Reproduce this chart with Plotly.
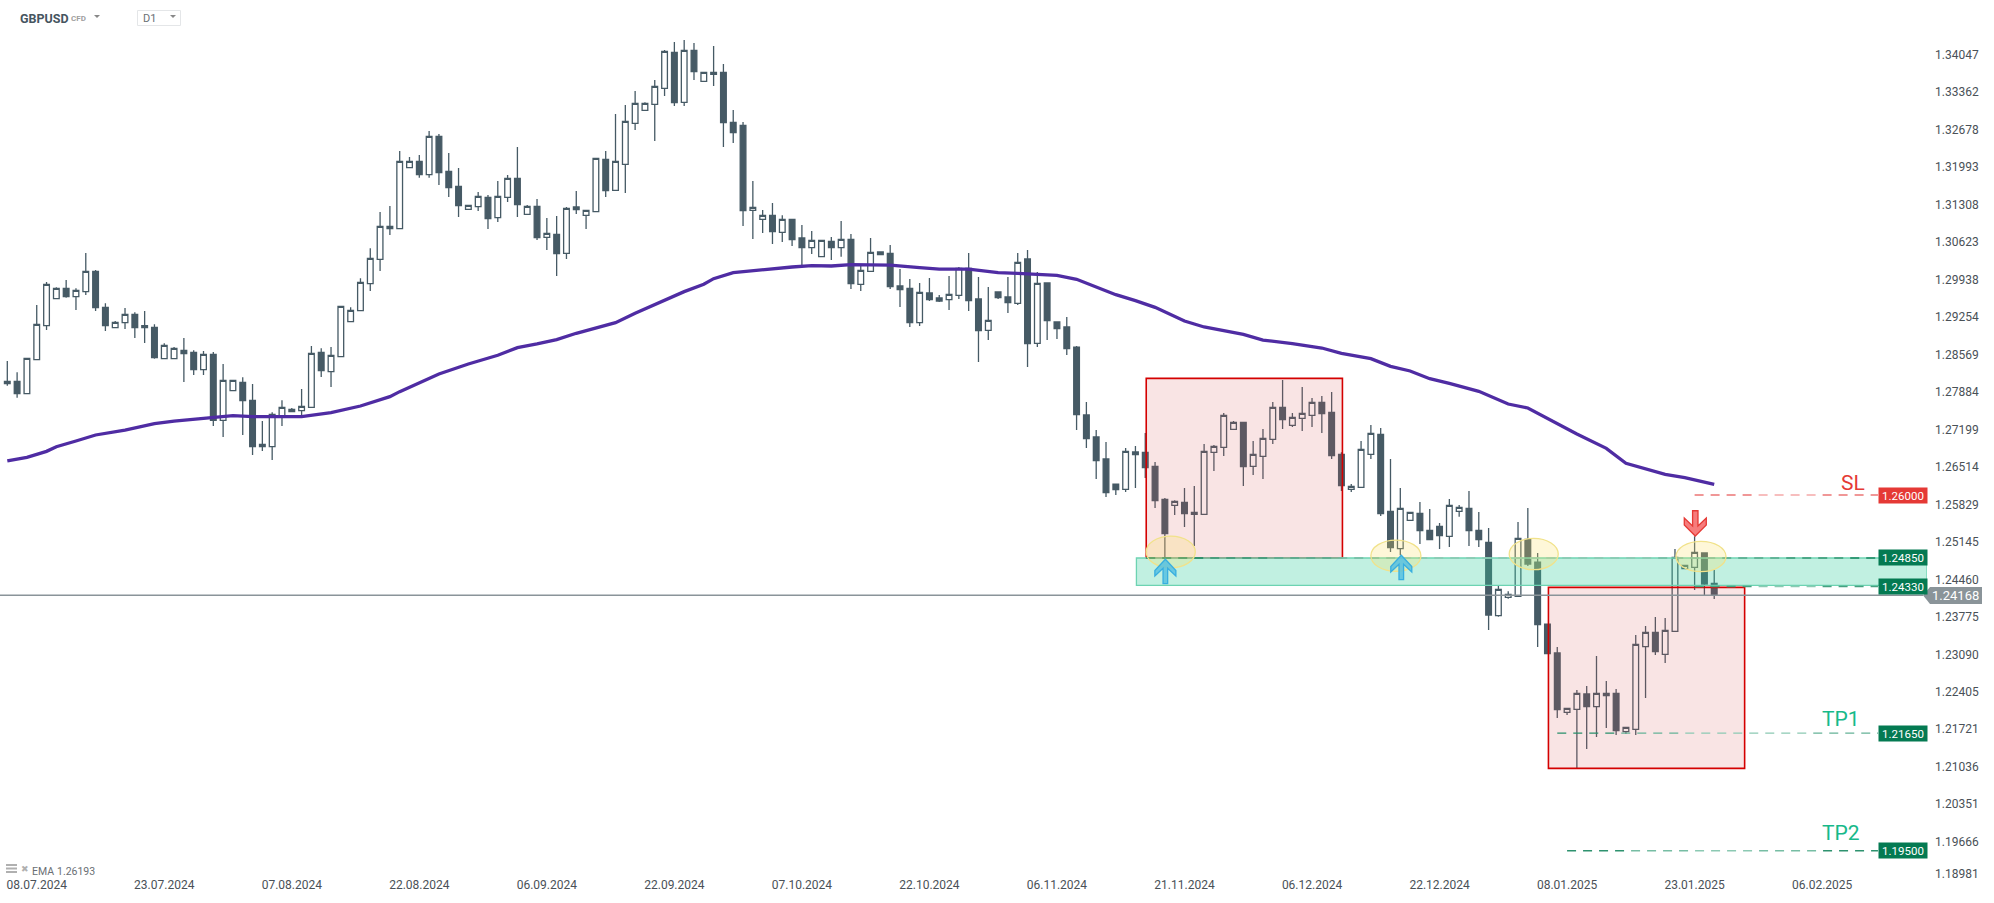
import plotly.graph_objects as go

W, H = 1994, 903
opens = [1.28034,1.28077,1.27852,1.28473,1.29094,1.29587,1.29776,1.29624,1.29715,1.30087,1.29429,1.29058,1.29149,1.29301,1.29058,1.29064,1.28491,1.28491,1.28643,1.28607,1.28290,1.28570,1.27365,1.27907,1.28059,1.27730,1.26883,1.26883,1.27438,1.27565,1.27541,1.27602,1.28607,1.28254,1.28528,1.29167,1.29368,1.29861,1.30306,1.30909,1.30866,1.31981,1.32096,1.31853,1.32554,1.31914,1.31640,1.31220,1.31269,1.31439,1.31068,1.31439,1.31786,1.31129,1.31275,1.30708,1.30763,1.30416,1.31263,1.31110,1.31177,1.32133,1.31567,1.32042,1.32791,1.33029,1.33138,1.33431,1.34088,1.33175,1.34125,1.33558,1.33686,1.33723,1.32809,1.32755,1.31202,1.31037,1.31110,1.30800,1.31037,1.30696,1.30519,1.30355,1.30635,1.30519,1.30671,1.29849,1.30087,1.30440,1.30416,1.29819,1.29776,1.29149,1.29691,1.29600,1.29569,1.29648,1.30142,1.29581,1.29009,1.29709,1.29618,1.29502,1.30312,1.28771,1.29874,1.29161,1.29070,1.28704,1.27462,1.27060,1.26658,1.26201,1.26104,1.26786,1.26780,1.26524,1.25921,1.25812,1.25867,1.25647,1.25647,1.26780,1.26871,1.27200,1.27328,1.26524,1.26707,1.27018,1.27602,1.27273,1.27401,1.27456,1.27694,1.27511,1.26744,1.26104,1.26141,1.26744,1.27109,1.25702,1.25020,1.25538,1.25666,1.25355,1.25428,1.25245,1.25702,1.25757,1.25355,1.25135,1.23796,1.24131,1.24149,1.25190,1.24776,1.23643,1.23114,1.22030,1.22084,1.22365,1.22133,1.22334,1.22377,1.21676,1.21719,1.23229,1.23491,1.23089,1.23509,1.24654,1.24679,1.24941,1.24386]
highs = [1.28449,1.28241,1.28497,1.29472,1.29892,1.29794,1.29928,1.29776,1.30422,1.30111,1.29502,1.29179,1.29417,1.29338,1.29362,1.29118,1.28771,1.28704,1.28869,1.28643,1.28631,1.28613,1.28394,1.28095,1.28150,1.28028,1.27352,1.27511,1.27730,1.27590,1.27937,1.28723,1.28680,1.28704,1.29447,1.29429,1.29959,1.30507,1.31171,1.31280,1.32285,1.32176,1.32212,1.32651,1.32596,1.32249,1.31975,1.31293,1.31537,1.31482,1.31738,1.31847,1.32359,1.31299,1.31409,1.31062,1.31098,1.31263,1.31555,1.31202,1.32152,1.32286,1.32962,1.33126,1.33382,1.33175,1.33583,1.34131,1.34277,1.34314,1.34259,1.33723,1.34204,1.33875,1.33035,1.32815,1.31738,1.31208,1.31336,1.31110,1.31037,1.30933,1.30824,1.30653,1.30714,1.31006,1.30769,1.30202,1.30696,1.30440,1.30568,1.30129,1.29947,1.29874,1.29965,1.29654,1.30001,1.30166,1.30422,1.29983,1.29801,1.29709,1.29983,1.30422,1.30476,1.30075,1.29874,1.29161,1.29252,1.28723,1.27699,1.27188,1.26969,1.26201,1.26859,1.26896,1.27133,1.26603,1.25946,1.25903,1.26128,1.26165,1.26932,1.26914,1.27499,1.27353,1.27334,1.26987,1.27206,1.27700,1.28102,1.27499,1.27974,1.27773,1.27809,1.27882,1.26780,1.26202,1.26987,1.27279,1.27225,1.26658,1.26128,1.25684,1.25873,1.25745,1.25489,1.25927,1.25818,1.26074,1.25690,1.25397,1.24338,1.24240,1.25507,1.25763,1.24941,1.23643,1.23223,1.22103,1.22438,1.22511,1.23059,1.22602,1.22456,1.21756,1.23442,1.23607,1.23771,1.23753,1.25014,1.24715,1.25245,1.24941,1.24630]
lows = [1.27998,1.27779,1.27852,1.28473,1.29015,1.29587,1.29606,1.29380,1.29654,1.29362,1.28997,1.29058,1.29033,1.28869,1.28777,1.28491,1.28491,1.28491,1.28065,1.28193,1.28193,1.27261,1.27060,1.27907,1.27097,1.26731,1.26804,1.26640,1.27261,1.27517,1.27450,1.27602,1.28156,1.27974,1.28516,1.29167,1.29368,1.29727,1.30093,1.30751,1.30866,1.31981,1.31798,1.31798,1.31664,1.31445,1.31080,1.31214,1.31189,1.30861,1.30988,1.31354,1.31080,1.31122,1.30660,1.30477,1.30002,1.30312,1.31135,1.30861,1.31177,1.31445,1.31561,1.31518,1.32669,1.33029,1.32468,1.33290,1.33108,1.33108,1.33583,1.33558,1.33473,1.32359,1.32432,1.30915,1.30678,1.30787,1.30587,1.30623,1.30550,1.30202,1.30403,1.30355,1.30294,1.30355,1.29764,1.29727,1.30081,1.30391,1.29764,1.29435,1.29070,1.29088,1.29545,1.29526,1.29380,1.29581,1.29362,1.28430,1.28832,1.29581,1.29325,1.29472,1.28339,1.28704,1.28832,1.28850,1.28558,1.27188,1.26859,1.26293,1.25964,1.26000,1.26055,1.26128,1.26311,1.25763,1.24868,1.25635,1.25416,1.25069,1.25647,1.26439,1.26713,1.27194,1.26165,1.26366,1.26293,1.26932,1.27206,1.27243,1.27170,1.27243,1.27133,1.26658,1.26074,1.26055,1.26141,1.26658,1.25617,1.24959,1.24898,1.25532,1.25105,1.25178,1.25014,1.25051,1.25605,1.25069,1.25051,1.23534,1.23777,1.24106,1.24143,1.24703,1.23223,1.23095,1.21926,1.21981,1.21006,1.21360,1.21579,1.21743,1.21615,1.21634,1.21615,1.22291,1.23077,1.22931,1.23503,1.24654,1.24265,1.24167,1.24100]
closes = [1.28077,1.27852,1.28497,1.29118,1.29849,1.29776,1.29624,1.29740,1.30087,1.29423,1.29094,1.29155,1.29301,1.29058,1.29094,1.28509,1.28735,1.28680,1.28583,1.28290,1.28570,1.27365,1.28095,1.28095,1.27724,1.26883,1.26926,1.27474,1.27602,1.27523,1.27620,1.28589,1.28272,1.28552,1.29447,1.29374,1.29886,1.30324,1.30909,1.30866,1.32096,1.32096,1.31853,1.32554,1.31890,1.31616,1.31287,1.31293,1.31457,1.31049,1.31457,1.31786,1.31305,1.31275,1.30702,1.30781,1.30410,1.31238,1.31214,1.31202,1.32152,1.31561,1.32097,1.32828,1.33156,1.33156,1.33467,1.34107,1.33169,1.34125,1.33735,1.33723,1.33723,1.32803,1.32621,1.31196,1.31256,1.31110,1.30812,1.31037,1.30666,1.30519,1.30653,1.30653,1.30519,1.30671,1.29861,1.30105,1.30434,1.30391,1.29807,1.29752,1.29149,1.29703,1.29569,1.29545,1.29667,1.30142,1.29551,1.29003,1.29192,1.29606,1.29514,1.30251,1.28765,1.29867,1.29185,1.29039,1.28674,1.27468,1.27030,1.26628,1.26043,1.26098,1.26798,1.26737,1.26500,1.25897,1.25294,1.25885,1.25660,1.25684,1.26798,1.26890,1.27456,1.27328,1.26518,1.26744,1.27036,1.27602,1.27377,1.27420,1.27493,1.27694,1.27487,1.26719,1.26171,1.26159,1.26835,1.27127,1.25660,1.25038,1.25757,1.25684,1.25349,1.25184,1.25258,1.25812,1.25775,1.25349,1.25184,1.23808,1.24277,1.24185,1.25209,1.24740,1.23631,1.23101,1.22078,1.22103,1.22377,1.22133,1.22377,1.22377,1.21695,1.21756,1.23272,1.23491,1.23138,1.23528,1.24861,1.24715,1.24953,1.24374,1.24168]

ema_index = [0,2,4,5,7,9,12,15,17,20,23,25,30,33,36,39,40,44,47,50,52,54,56,58,62,64,66,69,71,72,74,77,80,82,84,86,90,93,95,98,101,103,107,109,111,113,115,117,120,122,126,128,131,134,136,139,141,143,145,147,150,153,155,157,160,163,165,169,171,174]
ema_values = [1.26622,1.26689,1.26798,1.26883,1.26987,1.27097,1.27188,1.27304,1.27352,1.27407,1.27450,1.27431,1.27431,1.27505,1.27626,1.27797,1.27889,1.28212,1.28394,1.28553,1.28693,1.28760,1.28839,1.28955,1.29149,1.29320,1.29472,1.29716,1.29850,1.29953,1.30063,1.30118,1.30166,1.30190,1.30184,1.30209,1.30202,1.30154,1.30129,1.30129,1.30062,1.30050,1.30014,1.29941,1.29794,1.29660,1.29551,1.29429,1.29180,1.29070,1.28936,1.28832,1.28766,1.28686,1.28589,1.28491,1.28351,1.28266,1.28126,1.28041,1.27895,1.27663,1.27590,1.27401,1.27115,1.26853,1.26579,1.26378,1.26317,1.26193]

date_labels = ["08.07.2024","23.07.2024","07.08.2024","22.08.2024","06.09.2024","22.09.2024","07.10.2024","22.10.2024","06.11.2024","21.11.2024","06.12.2024","22.12.2024","08.01.2025","23.01.2025","06.02.2025"]
date_index = [3,16,29,42,55,68,81,94,107,120,133,146,159,172,185]
price_ticks = [1.34047,1.33362,1.32678,1.31993,1.31308,1.30623,1.29938,1.29254,1.28569,1.27884,1.27199,1.26514,1.25829,1.25145,1.24460,1.23775,1.23090,1.22405,1.21721,1.21036,1.20351,1.19666,1.18981]
# the last label sits pushed up against the axis end, as it does in the reference
price_tick_positions = price_ticks[:-1] + [1.19076]

# level: name, price, first candle index, colour pair, tag colour
levels = [("1.26000",1.2600,172,"#e24a4a","#f5a9a9","#e53935"),
          ("1.24850",1.2485,116.1,"#0a7d55","#8cc9b3","#047a52"),
          ("1.24330",1.2433,172,"#0a7d55","#8cc9b3","#047a52"),
          ("1.21650",1.2165,158,"#0a7d55","#8cc9b3","#047a52"),
          ("1.19500",1.1950,159,"#0a7d55","#8cc9b3","#047a52")]
boxes = [(116.1,136.1,1.28132,1.2485),(157.1,177.1,1.24313,1.21006)]
ellipses = [(116.1,121.1,1.25251,1.24672),(139.0,144.1,1.25178,1.24606),(153.1,158.1,1.25209,1.24636),(170.1,175.2,1.25155,1.24599)]
band = (115.1,1.2485,1.2435)
up_arrows = [(118.05,1.24826),(142.1,1.24899)]
down_arrows = [(172.07,1.25251)]

PX_IDX = 9.81
PRICE_PX = 0.0001827
X_RANGE = [-0.744, 195.69]
Y_RANGE = [1.19040, 1.35044]
PLOT_R = 1927
PLOT_B = 876
INK = "#465a65"

def fx(p): return p / W
def fy(p): return 1 - p / H
def hexmix(a, b, t):
    ca = [int(a[i:i+2],16) for i in (1,3,5)]; cb = [int(b[i:i+2],16) for i in (1,3,5)]
    return "#" + "".join(f"{round(x+(y-x)*t):02x}" for x,y in zip(ca,cb))

fig = go.Figure()
fig.add_trace(go.Candlestick(x=list(range(len(opens))), open=opens, high=highs, low=lows, close=closes,
    increasing=dict(line=dict(color=INK,width=1.3), fillcolor="#ffffff"),
    decreasing=dict(line=dict(color=INK,width=1.3), fillcolor=INK),
    whiskerwidth=0, hoverinfo="skip", showlegend=False))
fig.add_trace(go.Scatter(x=ema_index, y=ema_values, mode="lines", line=dict(color="#4f2ca3",width=3.3,shape="linear"), hoverinfo="skip", showlegend=False))

shapes = []
for x0,x1,y1,y0 in boxes:
    shapes.append(dict(type="rect",xref="x",yref="y",x0=x0,x1=x1,y0=y0,y1=y1,fillcolor="rgba(220,90,85,0.16)",line=dict(color="#d40000",width=1.6),layer="above"))
shapes.append(dict(type="rect",xref="x",yref="y",x0=band[0],x1=X_RANGE[1],y0=band[2],y1=band[1],fillcolor="rgba(50,205,155,0.30)",line=dict(color="#6dd3b2",width=1.3),layer="above"))

seg = 4 * 16 / PX_IDX
for _,price,start,dark,light,_tc in levels:
    n = int((X_RANGE[1] - 5 - start) / seg) + 1
    for i in range(n):
        a = start + i*seg
        b = min(a + seg, X_RANGE[1]-5)
        t = 1 - abs(2*(i+0.5)/n - 1)
        shapes.append(dict(type="line",xref="x",yref="y",x0=a,x1=b,y0=price,y1=price,layer="above",
                           line=dict(color=hexmix(dark,light,min(1,t*1.4)),width=1.4,dash="9px,7px")))

shapes.append(dict(type="line",xref="paper",yref="y",x0=0,x1=fx(1923),y0=closes[-1],y1=closes[-1],line=dict(color="#8a9499",width=1.5),layer="above"))

for x0,x1,y1,y0 in ellipses:
    shapes.append(dict(type="circle",xref="x",yref="y",x0=x0,x1=x1,y0=y0,y1=y1,fillcolor="rgba(250,225,100,0.25)",line=dict(color="#f1e28a",width=1.3),layer="above"))

def arrow(ix, pr, pts, fill, stroke):
    s = "M " + " L ".join(f"{ix+dx/PX_IDX:.4f} {pr-dy*PRICE_PX:.6f}" for dx,dy in pts) + " Z"
    return dict(type="path",xref="x",yref="y",path=s,fillcolor=fill,line=dict(color=stroke,width=1.3),layer="above")
UP = [(0,0),(10.5,11.3),(10.5,16.7),(2.3,9),(2.3,24.3),(-2.3,24.3),(-2.3,9),(-10.5,16.7),(-10.5,11.3)]
DOWN = [(0,0),(11,-11),(11,-18),(2.7,-10),(2.7,-25.3),(-2.7,-25.3),(-2.7,-10),(-11,-18),(-11,-11)]
for ix,pr in up_arrows:
    shapes.append(arrow(ix,pr,UP,"rgba(80,190,225,0.8)","#38aee0"))
for ix,pr in down_arrows:
    shapes.append(arrow(ix,pr,DOWN,"rgba(245,110,110,0.9)","#e53935"))

py0 = 595.3
shapes.append(dict(type="path",xref="paper",yref="paper",fillcolor="#8a9499",line=dict(width=0),layer="above",
    path=f"M {fx(1923)} {fy(py0)} L {fx(1930)} {fy(587)} L {fx(1982)} {fy(587)} L {fx(1982)} {fy(604)} L {fx(1930)} {fy(604)} Z"))

def tri(x,y,w=6,h=3,c="#888888"):
    return dict(type="path",xref="paper",yref="paper",fillcolor=c,line=dict(width=0),
                path=f"M {fx(x)} {fy(y)} L {fx(x+w)} {fy(y)} L {fx(x+w/2)} {fy(y+h)} Z")
shapes += [tri(94,15),tri(170,15),
    dict(type="rect",xref="paper",yref="paper",x0=fx(137.5),x1=fx(180.5),y0=fy(25.5),y1=fy(10.5),line=dict(color="#e4e6e8",width=1),fillcolor="rgba(0,0,0,0)")]
for yy in (865,868.5,872):
    shapes.append(dict(type="line",xref="paper",yref="paper",x0=fx(6),x1=fx(17),y0=fy(yy),y1=fy(yy),line=dict(color="#b0b0b0",width=2)))

ann = []
def text(t,x,y,size,color,anchor="left",family="Roboto",bold=False):
    ann.append(dict(text=f"<b>{t}</b>" if bold else t,xref="paper",yref="paper",x=fx(x),y=fy(y),xanchor=anchor,yanchor="middle",showarrow=False,font=dict(family=family,size=size,color=color)))
text("GBPUSD",17.5,18,12.5,"#46555f",bold=True)
text("CFD",69,18.5,8,"#a0a0a0",bold=True)
text("D1",141,18.5,11,"#6a6f75")
text("EMA",30,871.5,10.5,"#6a6f75")
text("1.26193",55,871.5,10.5,"#6a6f75")
text("✖",19,869,9,"#b0b0b0",family="DejaVu Sans")
text("SL",1852.5,483,21,"#e53935","center")
text("TP1",1840.5,718.5,21,"#17b98a","center")
text("TP2",1840.5,833,21,"#17b98a","center")
for lab,price,_s,_d,_l,tc in levels:
    ann.append(dict(text=lab,xref="paper",yref="y",x=fx(1902.5),y=price,xanchor="center",yanchor="middle",showarrow=False,width=48,height=15,bgcolor=tc,borderpad=0,font=dict(family="Roboto",size=11.5,color="#ffffff")))
text(f"{closes[-1]:.5f}",1955.5,595.5,13,"#ffffff","center")

fig.update_layout(width=W,height=H,autosize=False,margin=dict(l=0,r=0,t=0,b=0,pad=0,autoexpand=False),
    paper_bgcolor="#ffffff",plot_bgcolor="#ffffff",showlegend=False,boxgap=0.42,boxgroupgap=0,boxmode="overlay",
    shapes=shapes,annotations=ann,hovermode=False,
    xaxis=dict(domain=[0,PLOT_R/W],range=X_RANGE,rangeslider=dict(visible=False),showgrid=False,zeroline=False,showline=False,automargin=False,
               tickmode="array",tickvals=date_index,ticktext=date_labels,ticks="",
               tickfont=dict(family="Roboto",size=12,color="#4a5157"),fixedrange=True),
    yaxis=dict(domain=[1-PLOT_B/H,1],range=Y_RANGE,side="right",showgrid=False,zeroline=False,showline=False,automargin=False,
               tickmode="array",tickvals=price_tick_positions,ticktext=[f"{v:.5f}" for v in price_ticks],ticks="",ticklabelstandoff=7,
               tickfont=dict(family="Roboto",size=12,color="#4a5157"),fixedrange=True))

fig.write_html("out.html",post_script="document.body.style.margin='0';document.body.style.overflow='hidden';",config=dict(displayModeBar=False))
